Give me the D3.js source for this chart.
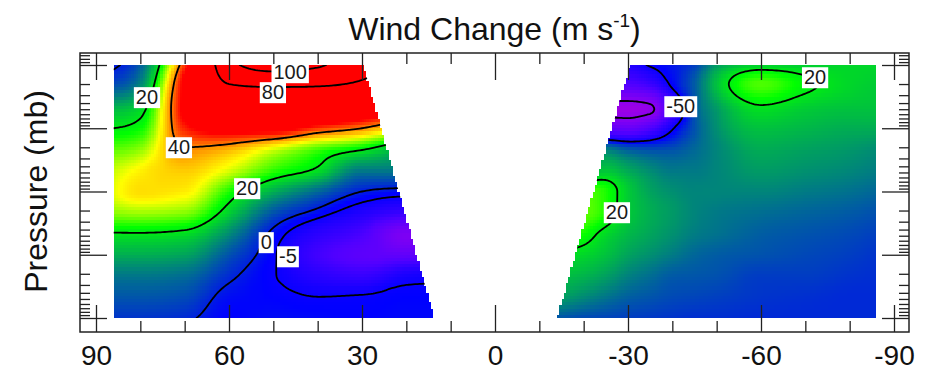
<!DOCTYPE html>
<html>
<head>
<meta charset="utf-8">
<script src="https://cdn.jsdelivr.net/npm/d3@7"></script>
<style>
  html, body { margin: 0; padding: 0; background: #fff; }
  svg { display: block; font-family: "Liberation Sans", Arial, Helvetica, sans-serif; }
</style>
</head>
<body>
<svg id="chart" width="927" height="371"></svg>
<script>
// Pressure levels (mb), from the surface upward
const pressureLevels = [1000, 500, 200, 100, 50, 20, 10, 5, 2, 1, 0.5, 0.2, 0.1];

// Northern hemisphere grid: latitudes and wind change (m/s), one row per pressure level
const latitudesNorth = [86, 80, 70, 60, 50, 40, 30, 20, 15];
const windNorth = [
  [2, 2, 1, -3, -2, -2.5, -3, -2.5, -2.5],
  [5, 5, 4, -2, -3, -4.5, -4, -3, -3],
  [9, 9, 8, 1.5, -4.5, -13, -18, -9, -8],
  [14, 14, 13, 5, -4, -20, -30, -32, -30],
  [19, 19, 18, 10, -2, -14, -24, -44, -42],
  [28, 29, 28, 18, 6, -1, -9, -15, -15],
  [31, 34, 33, 23, 14, 7, 0, -2, -2],
  [30, 33, 35, 30, 23, 18, 8, 8, 8],
  [25, 27, 40, 38, 32, 26, 22, 15, 12],
  [20, 22, 46, 52, 52, 45, 40, 32, 30],
  [15, 18, 50, 65, 66, 65, 58, 50, 45],
  [4, 10, 50, 80, 83, 82, 78, 70, 65],
  [-1, 6, 45, 93, 110, 103, 85, 80, 75]
];

// Southern hemisphere grid
const latitudesSouth = [-15, -20, -25, -30, -35, -40, -45, -50, -60, -70, -80, -86];
const windSouth = [
  [5, 4, 3.5, 3, 2.5, 2, 1.5, 1.5, 1, 1, 1, 1],
  [12, 10, 8, 6, 5, 4, 3.5, 3, 2, 1.5, 1, 1],
  [16, 15, 13, 10, 8, 6, 5.5, 5, 3, 3, 2, 1.5],
  [19, 18, 16, 13, 11, 9, 7, 6, 5, 4, 3, 2],
  [24, 22, 18, 15, 13, 11, 9, 8, 6, 5, 4, 3],
  [27, 26, 23, 17, 14, 12, 10, 9, 8, 7, 6, 5],
  [25, 25, 23, 17, 13, 11, 10, 10, 10, 9, 8, 7],
  [15, 15, 17, 14, 11, 9, 9, 10, 12, 11, 10, 9],
  [10, 10, 8, 4, 3, 4, 7, 10, 14, 13, 12, 11],
  [-30, -30, -32, -35, -25, -6, 5, 11, 16, 15, 14, 14],
  [-56, -56, -56, -56, -53, -20, 5, 12, 19, 17, 16, 16],
  [-25, -25, -25, -25, -18, -3, 6, 16, 25, 21, 18, 17],
  [-10, -10, -10, -10, -4, -1, 3, 12, 17, 17, 18, 18]
];

// Edge of the missing equatorial band
const gapPressure = [1000, 0.1];
const gapNorthEdge = [13.7, 29.7];
const gapSouthEdge = [-14, -30.5];

// Contour levels drawn in each hemisphere
const contourLevelsNorth = [-5, 0, 20, 40, 80, 100];
const contourLevelsSouth = [-50, -5, 20];

// Contour labels: text and anchor (latitude, pressure)
const labelText = ["100", "80", "20", "40", "20", "0", "-5", "-50", "20", "20"];
const labelLat = [46.2, 50.1, 78.5, 71.3, 55.9, 51.6, 46.7, -41.9, -72.2, -27.5];
const labelPressure = [0.129, 0.267, 0.32, 1.98, 8.8, 62.8, 105, 0.445, 0.155, 21.1];

// Axis ticks
const latTicksMajor = [90, 60, 30, 0, -30, -60, -90];
const latTicksMinor = [80, 70, 50, 40, 20, 10, -10, -20, -40, -50, -70, -80];
const pressureTicksMajor = [1000, 100, 10, 1, 0.1];

// Colour ramp for wind change
const colorValues = [-65, -50, -25, -10, -3, 22, 32, 48];
const colorRamp = ["#b400d4", "#8a00f0", "#5000ff", "#2000ff", "#0000ff", "#00ff00", "#ffff00", "#ff0000"];

// ---------------------------------------------------------------
const svg = d3.select("#chart");
const frame = { left: 80, right: 909, top: 53, bottom: 332 };

const x = d3.scaleLinear().domain([90, -90]).range([96, 894]);
const y = d3.scaleLog().domain([1000, 0.1]).range([318, 65]);
const color = d3.scaleLinear().domain(colorValues).range(colorRamp)
  .interpolate(d3.interpolateRgb).clamp(true);

const gapN = d3.scaleLog().domain(gapPressure).range(gapNorthEdge);
const gapS = d3.scaleLog().domain(gapPressure).range(gapSouthEdge);

// Monotone cubic interpolant (same slope rule as d3.curveMonotoneX)
function monotone(xs, ys) {
  const n = xs.length, h = [], s = [], m = new Array(n);
  for (let i = 0; i < n - 1; i++) {
    h[i] = xs[i + 1] - xs[i];
    s[i] = (ys[i + 1] - ys[i]) / h[i];
  }
  for (let i = 1; i < n - 1; i++) {
    const p = (s[i - 1] * h[i] + s[i] * h[i - 1]) / (h[i - 1] + h[i]);
    m[i] = (Math.sign(s[i - 1]) + Math.sign(s[i])) *
      Math.min(Math.abs(s[i - 1]), Math.abs(s[i]), 0.5 * Math.abs(p)) || 0;
  }
  m[0] = n > 2 ? (3 * s[0] - m[1]) / 2 : s[0];
  m[n - 1] = n > 2 ? (3 * s[n - 2] - m[n - 2]) / 2 : s[n - 2];
  return function (q) {
    if (q <= xs[0]) return ys[0];
    if (q >= xs[n - 1]) return ys[n - 1];
    const i = Math.min(n - 2, d3.bisectRight(xs, q) - 1);
    const t = (q - xs[i]) / h[i], t2 = t * t, t3 = t2 * t;
    return (2 * t3 - 3 * t2 + 1) * ys[i] + (t3 - 2 * t2 + t) * h[i] * m[i] +
      (-2 * t3 + 3 * t2) * ys[i + 1] + (t3 - t2) * h[i] * m[i + 1];
  };
}

function hemisphere(lats, rows) {
  const order = d3.range(lats.length).sort((a, b) => lats[a] - lats[b]);
  const latAsc = order.map(i => lats[i]);
  const rowFns = rows.map(r => monotone(latAsc, order.map(i => r[i])));
  const logAsc = pressureLevels.map(p => Math.log10(p)).reverse();
  return { rowFns, logAsc };
}
const north = hemisphere(latitudesNorth, windNorth);
const south = hemisphere(latitudesSouth, windSouth);

function fieldValue(lat, logp) {
  const g = lat >= 0 ? north : south;
  const col = g.rowFns.map(f => f(lat)).reverse();
  return monotone(g.logAsc, col)(logp);
}

// ---------------- shaded field ----------------
const dLat = 0.5, dLog = 0.05;
const cellLats = d3.range(0, 344).map(i => 86 - dLat / 2 - i * dLat);
const cellLogs = d3.range(0, 80).map(j => -1 + dLog / 2 + j * dLog);
const cells = [];
cellLogs.forEach(lp => {
  const p = Math.pow(10, lp);
  const eN = gapN(p), eS = gapS(p);
  cellLats.forEach(lat => {
    if (lat >= eN || lat <= eS) cells.push({ lat, lp, v: fieldValue(lat, lp) });
  });
});

const cellTop = d => y(Math.pow(10, d.lp - dLog / 2));
const cellBottom = d => y(Math.pow(10, d.lp + dLog / 2));
svg.append("g").attr("shape-rendering", "crispEdges")
  .selectAll("rect").data(cells).join("rect")
  .attr("x", d => x(d.lat + dLat / 2))
  .attr("width", d => x(d.lat - dLat / 2) - x(d.lat + dLat / 2))
  .attr("y", cellTop)
  .attr("height", d => cellBottom(d) - cellTop(d))
  .attr("fill", d => color(d.v));

// ---------------- contours ----------------
const cStep = 0.5, cLogStep = 0.025, cLogMin = -1.3;
const nx = 361, ny = 185;
const grid = new Array(nx * ny);
for (let j = 0; j < ny; j++) {
  const lp = cLogMin + j * cLogStep;
  for (let i = 0; i < nx; i++) {
    const lat = 90 - i * cStep;
    grid[j * nx + i] = fieldValue(lat === 0 ? 0.001 : lat, lp);
  }
}
const gridProjection = d3.geoTransform({
  point: function (gx, gy) {
    const lat = 90 - (gx - 0.5) * cStep;
    const lp = cLogMin + (gy - 0.5) * cLogStep;
    this.stream.point(x(lat), y(Math.pow(10, lp)));
  }
});
const contourPath = d3.geoPath(gridProjection);

const defs = svg.append("defs");
function clipFor(id, edge, outerLat) {
  const pts = [[outerLat, 1000], [outerLat, 0.1], [edge(0.1), 0.1], [edge(1000), 1000]]
    .map(([la, p]) => [x(la), y(p)]);
  defs.append("clipPath").attr("id", id)
    .append("path").attr("d", "M" + pts.join("L") + "Z");
}
clipFor("clipNorth", gapN, 86);
clipFor("clipSouth", gapS, -86);

function drawContours(levels, clipId) {
  const sets = d3.contours().size([nx, ny]).thresholds(levels)(grid);
  svg.append("g").attr("clip-path", `url(#${clipId})`)
    .selectAll("path").data(sets).join("path")
    .attr("d", contourPath)
    .attr("fill", "none")
    .attr("stroke", "#000")
    .attr("stroke-width", 1.8)
    .attr("stroke-linejoin", "round");
}
drawContours(contourLevelsNorth, "clipNorth");
drawContours(contourLevelsSouth, "clipSouth");

// ---------------- contour labels ----------------
const labelG = svg.append("g").attr("font-size", 20).attr("fill", "#1a1a1a");
labelText.forEach((t, i) => {
  const g = labelG.append("g")
    .attr("transform", `translate(${x(labelLat[i])},${y(labelPressure[i])})`);
  const rect = g.append("rect").attr("fill", "#fff");
  const txt = g.append("text").attr("text-anchor", "middle").attr("dy", "0.36em").text(t);
  const b = txt.node().getBBox();
  rect.attr("x", b.x - 2).attr("y", b.y + 1).attr("width", b.width + 4).attr("height", b.height - 1);
});

// ---------------- axes ----------------
function styleAxis(g) {
  g.select(".domain").remove();
  g.selectAll(".tick line").attr("stroke", "#222").attr("stroke-width", 1.3);
  g.attr("font-family", null).attr("font-size", 28);
  g.selectAll(".tick text").attr("fill", "#111");
}
const fmt = d => String(d);

svg.append("g").attr("transform", `translate(0,${frame.bottom})`)
  .call(d3.axisBottom(x).tickValues(latTicksMajor).tickSizeInner(-27).tickSizeOuter(0).tickPadding(13).tickFormat(fmt))
  .call(styleAxis);
svg.append("g").attr("transform", `translate(0,${frame.bottom})`)
  .call(d3.axisBottom(x).tickValues(latTicksMinor).tickSizeInner(-11).tickSizeOuter(0).tickFormat(""))
  .call(styleAxis);
svg.append("g").attr("transform", `translate(0,${frame.top})`)
  .call(d3.axisTop(x).tickValues(latTicksMajor).tickSizeInner(-27).tickSizeOuter(0).tickFormat(""))
  .call(styleAxis);
svg.append("g").attr("transform", `translate(0,${frame.top})`)
  .call(d3.axisTop(x).tickValues(latTicksMinor).tickSizeInner(-11).tickSizeOuter(0).tickFormat(""))
  .call(styleAxis);

const pressureExtent = [y.invert(frame.bottom - 0.5), y.invert(frame.top + 0.5)];
const pressureTicksMinor = y.copy().domain(pressureExtent).ticks()
  .filter(p => !pressureTicksMajor.some(q => Math.abs(q - p) / q < 1e-6));

[[d3.axisLeft, frame.left], [d3.axisRight, frame.right]].forEach(([axis, pos]) => {
  svg.append("g").attr("transform", `translate(${pos},0)`)
    .call(axis(y).tickValues(pressureTicksMajor).tickSizeInner(-27).tickSizeOuter(0).tickFormat(""))
    .call(styleAxis);
  svg.append("g").attr("transform", `translate(${pos},0)`)
    .call(axis(y).tickValues(pressureTicksMinor).tickSizeInner(-10).tickSizeOuter(0).tickFormat(""))
    .call(styleAxis);
});

// frame
svg.append("rect")
  .attr("x", frame.left).attr("y", frame.top)
  .attr("width", frame.right - frame.left).attr("height", frame.bottom - frame.top)
  .attr("fill", "none").attr("stroke", "#222").attr("stroke-width", 1.5);

// ---------------- titles ----------------
const title = svg.append("text")
  .attr("x", (frame.left + frame.right) / 2).attr("y", 40)
  .attr("text-anchor", "middle").attr("font-size", 32).attr("fill", "#111");
title.append("tspan").text("Wind Change (m s");
title.append("tspan").attr("font-size", 19).attr("dy", -13).text("-1");
title.append("tspan").attr("dy", 13).text(")");

svg.append("text")
  .attr("transform", `translate(47,${(65 + 318) / 2}) rotate(-90)`)
  .attr("text-anchor", "middle").attr("font-size", 32).attr("fill", "#111")
  .text("Pressure (mb)");
</script>
</body>
</html>
